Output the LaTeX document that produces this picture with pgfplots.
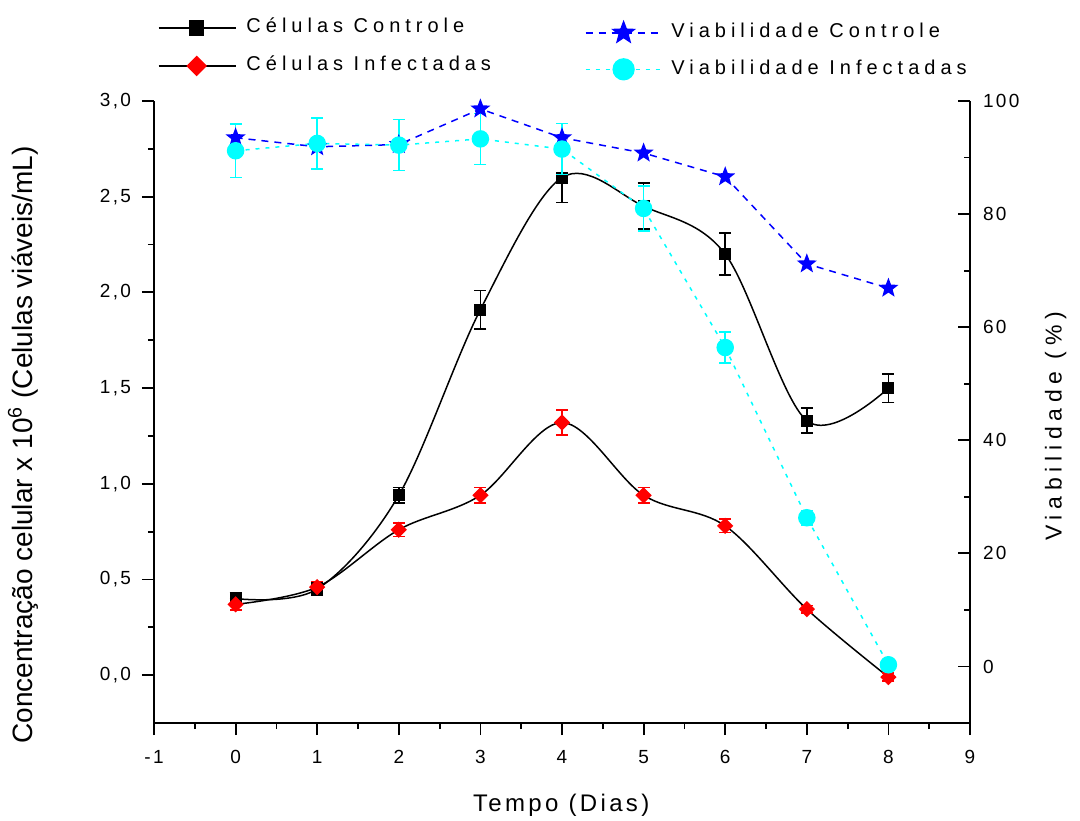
\documentclass[border=0pt]{standalone}
\usepackage{fontspec}
\setmainfont{Liberation Sans}
\newfontfamily\lsleg[LetterSpace=25]{Liberation Sans}
\newfontfamily\lstick[LetterSpace=12]{Liberation Sans}
\newfontfamily\lsx[LetterSpace=14]{Liberation Sans}
\usepackage{pgfplots}
\usepackage{pgfplotstable}
\pgfplotsset{compat=1.18}
\usetikzlibrary{plotmarks}
\definecolor{pblue}{RGB}{0,0,255}
\definecolor{pcyan}{RGB}{0,255,255}
\definecolor{pred}{RGB}{255,0,0}

\pgfdeclareplotmark{fstar}{%
 \pgfpathmoveto{\pgfpointpolar{90}{\pgfplotmarksize}}%
 \pgfpathlineto{\pgfpointpolar{126}{0.42\pgfplotmarksize}}%
 \pgfpathlineto{\pgfpointpolar{162}{\pgfplotmarksize}}%
 \pgfpathlineto{\pgfpointpolar{198}{0.42\pgfplotmarksize}}%
 \pgfpathlineto{\pgfpointpolar{234}{\pgfplotmarksize}}%
 \pgfpathlineto{\pgfpointpolar{270}{0.42\pgfplotmarksize}}%
 \pgfpathlineto{\pgfpointpolar{306}{\pgfplotmarksize}}%
 \pgfpathlineto{\pgfpointpolar{342}{0.42\pgfplotmarksize}}%
 \pgfpathlineto{\pgfpointpolar{18}{\pgfplotmarksize}}%
 \pgfpathlineto{\pgfpointpolar{54}{0.42\pgfplotmarksize}}%
 \pgfpathclose
 \pgfusepathqfillstroke
}

\pgfplotstableread{
x y e
0 0.40 0.03
1 0.45 0.03
2 0.94 0.04
3 1.91 0.10
4 2.60 0.13
5 2.45 0.12
6 2.20 0.11
7 1.33 0.065
8 1.50 0.075
}\cc
\pgfplotstableread{
x y e
0 0.37 0.03
1 0.46 0.03
2 0.76 0.035
3 0.94 0.04
4 1.32 0.065
5 0.94 0.04
6 0.78 0.035
7 0.345 0.02
8 -0.01 0.02
}\ci
\pgfplotstableread{
x y
0 93.5
1 91.9
2 92.3
3 98.6
4 93.5
5 90.8
6 86.6
7 71.2
8 66.9
}\vc
\pgfplotstableread{
x y e
0 91.2 4.7
1 92.5 4.5
2 92.2 4.5
3 93.3 4.5
4 91.5 4.5
5 81.0 4.0
6 56.4 2.7
7 26.3 1.3
8 0.3 0.8
}\vi

\pgfplotsset{
 common/.style={
  at={(0,0)}, anchor=south west,
  scale only axis, width=408pt, height=311pt,
  xmin=-1, xmax=9,
  major tick length=6pt, minor tick length=3pt,
  every tick/.style={black, line width=0.9pt},
  axis line style={black, line width=1pt},
  /pgf/number format/assume math mode=true,
  tick label style={font=\lstick\fontsize{9.5}{11}\selectfont, black},
  legend cell align=left,
  legend image code/.code={\draw[mark repeat=2,mark phase=2,##1,every mark/.append style={scale=1.3}] plot coordinates {(0pt,0pt)(19pt,0pt)(38.5pt,0pt)};},
 },
}

\begin{document}
\begin{tikzpicture}
\useasboundingbox (-77pt,-48.5pt) rectangle (463pt,361.5pt);
\begin{axis}[common,
 ymin=-0.25, ymax=3,
 axis x line*=bottom, axis y line*=left,
 xtick={-1,0,1,2,3,4,5,6,7,8,9}, minor x tick num=1,
 ytick={0,0.5,1,1.5,2,2.5,3}, minor y tick num=1,
 tick align=outside,
 x tick label style={yshift=-4pt},
 y tick label style={xshift=-2pt, /pgf/number format/.cd, fixed, fixed zerofill, precision=1, use comma},
 xlabel={\lsx Tempo (Dias)},
 xlabel style={font=\fontsize{12}{14}\selectfont, at={(axis description cs:0.499,-0.132)}, anchor=center},
 ylabel={Concentração celular x 10\textsuperscript{6} (Celulas viáveis/mL)},
 ylabel style={font=\fontsize{14}{16}\selectfont, at={(axis description cs:-0.1605,0.447)}, anchor=center, rotate=0},
 legend style={at={(axis description cs:0.0049,1)}, anchor=north west, yshift=41.5pt,
   draw=none, fill=none, inner sep=0pt, outer sep=0pt, row sep=9pt, column sep=5pt,
   nodes={inner sep=0pt, text height=7.5pt, text depth=2.5pt},
   font=\lsleg\fontsize{10}{12}\selectfont},
]
\addplot[black, line width=0.75pt, smooth, tension=0.55,
  mark=square*, mark size=2.6pt, mark options={solid, black, fill=black},
  error bars/.cd, y dir=both, y explicit,
  error bar style={black, line width=0.8pt},
  error mark options={rotate=90, mark size=3pt, black, line width=0.8pt}]
  table[x=x, y=y, y error=e] {\cc};
\addlegendentry{Células Controle}
\addplot[black, line width=0.75pt, smooth, tension=0.55,
  mark=square*, mark size=2.5pt, mark options={solid, pred, fill=pred, rotate=45},
  error bars/.cd, y dir=both, y explicit,
  error bar style={pred, line width=0.8pt},
  error mark options={rotate=90, mark size=3pt, pred, line width=0.8pt}]
  table[x=x, y=y, y error=e] {\ci};
\addlegendentry{Células Infectadas}
\end{axis}
\begin{axis}[common,
 ymin=-10, ymax=100,
 axis x line=none, axis y line*=right,
 ytick={0,20,40,60,80,100}, minor y tick num=1,
 tick align=inside,
 y tick label style={xshift=3pt},
 ylabel={\lsleg Viabilidade (\%)},
 ylabel style={font=\fontsize{11.5}{14}\selectfont, at={(axis description cs:1.105,0.477)}, anchor=center, rotate=0},
 legend style={at={(axis description cs:0.528,1)}, anchor=north west, yshift=39.5pt,
   draw=none, fill=none, inner sep=0pt, outer sep=0pt, row sep=8pt, column sep=4pt,
   nodes={inner sep=0pt, text height=7.5pt, text depth=2.5pt},
   font=\lsleg\fontsize{10}{12}\selectfont},
]
\addplot[pblue, line width=0.75pt, dash pattern=on 3.5pt off 3pt,
  mark=fstar, mark size=4.2pt, mark options={solid, pblue, fill=pblue}]
  table[x=x, y=y] {\vc};
\addlegendentry{Viabilidade Controle}
\addplot[pcyan, line width=0.75pt, dash pattern=on 2pt off 3pt,
  mark=*, mark size=4pt, mark options={solid, pcyan, fill=pcyan},
  error bars/.cd, y dir=both, y explicit,
  error bar style={pcyan, line width=0.8pt, solid},
  error mark options={rotate=90, mark size=3pt, pcyan, line width=0.8pt, solid}]
  table[x=x, y=y, y error=e] {\vi};
\addlegendentry{Viabilidade Infectadas}
\end{axis}
\end{tikzpicture}
\end{document}
